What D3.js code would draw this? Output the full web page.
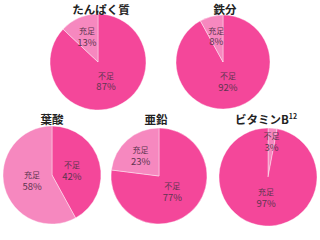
<!DOCTYPE html>
<html>
<head>
<meta charset="utf-8">
<script src="https://cdn.jsdelivr.net/npm/d3@7"></script>
<style>
  body { margin: 0; background: #fff; }
  svg { display: block; }
  text { font-family: "Noto Sans CJK JP", "Noto Sans", sans-serif; }
</style>
</head>
<body>
<svg id="chart"></svg>
<script>
// data
const nutrients = ["たんぱく質", "鉄分", "葉酸", "亜鉛", "ビタミンB12"];
const categories = ["不足", "充足"];
const shortage = [87, 92, 42, 77, 3];
const sufficient = [13, 8, 58, 23, 97];
// which category gets the darker pink in each pie
const darkCategory = ["不足", "不足", "不足", "不足", "充足"];

// layout (one pie per nutrient)
const layout = [
    {cx: 98,  cy: 62,  r: 48, tx: 101, ty: 14},
    {cx: 223, cy: 62,  r: 47, tx: 225, ty: 14},
    {cx: 52,  cy: 175, r: 49, tx: 52,  ty: 124},
    {cx: 159, cy: 176, r: 48, tx: 156, ty: 124},
    {cx: 268, cy: 177, r: 49, tx: 266, ty: 124}
];

const width = 320, height = 240;
const darkPink = "#f4479a", lightPink = "#f688bf";

const svg = d3.select("#chart")
    .attr("width", width)
    .attr("height", height);

const pie = d3.pie().sort(null).value(d => d.value);

nutrients.forEach((name, i) => {
    const cfg = layout[i];
    const rows = categories.map((c, j) => ({
        cat: c,
        value: j === 0 ? shortage[i] : sufficient[i]
    }));
    const color = d => d.data.cat === darkCategory[i] ? darkPink : lightPink;

    const arc = d3.arc().innerRadius(0).outerRadius(cfg.r);

    const g = svg.append("g")
        .attr("transform", `translate(${cfg.cx},${cfg.cy})`);

    const arcs = pie(rows);

    g.selectAll("path")
        .data(arcs)
        .join("path")
        .attr("d", arc)
        .attr("fill", color)
        .attr("stroke", "#fff")
        .attr("stroke-width", 0.4);

    // labels sit further out on thin slices
    const labelR = d => {
        const v = d.data.value;
        return v < 5 ? cfg.r * 0.74 : v < 30 ? cfg.r * 0.58 : cfg.r * 0.42;
    };

    const lbl = g.selectAll("text.lbl")
        .data(arcs)
        .join("text")
        .attr("class", "lbl")
        .attr("transform", d => {
            const a = (d.startAngle + d.endAngle) / 2;
            const rr = labelR(d);
            return `translate(${Math.sin(a) * rr},${-Math.cos(a) * rr})`;
        })
        .attr("text-anchor", "middle")
        .attr("fill", "#5e3550");

    lbl.append("tspan")
        .attr("x", 0)
        .attr("dy", "-0.25em")
        .attr("font-size", 8)
        .text(d => d.data.cat);

    lbl.append("tspan")
        .attr("x", 0)
        .attr("dy", "1.25em")
        .attr("font-size", 9.5)
        .text(d => d.data.value + "%");

    // title
    const t = svg.append("text")
        .attr("x", cfg.tx)
        .attr("y", cfg.ty)
        .attr("text-anchor", "middle")
        .attr("font-size", 11.5)
        .attr("font-weight", "bold")
        .attr("fill", "#222");

    if (name.endsWith("B12")) {
        t.append("tspan").text(name.replace("12", ""));
        t.append("tspan")
            .attr("font-size", 7)
            .attr("dy", -5)
            .text("12");
    } else {
        t.text(name);
    }
});
</script>
</body>
</html>
